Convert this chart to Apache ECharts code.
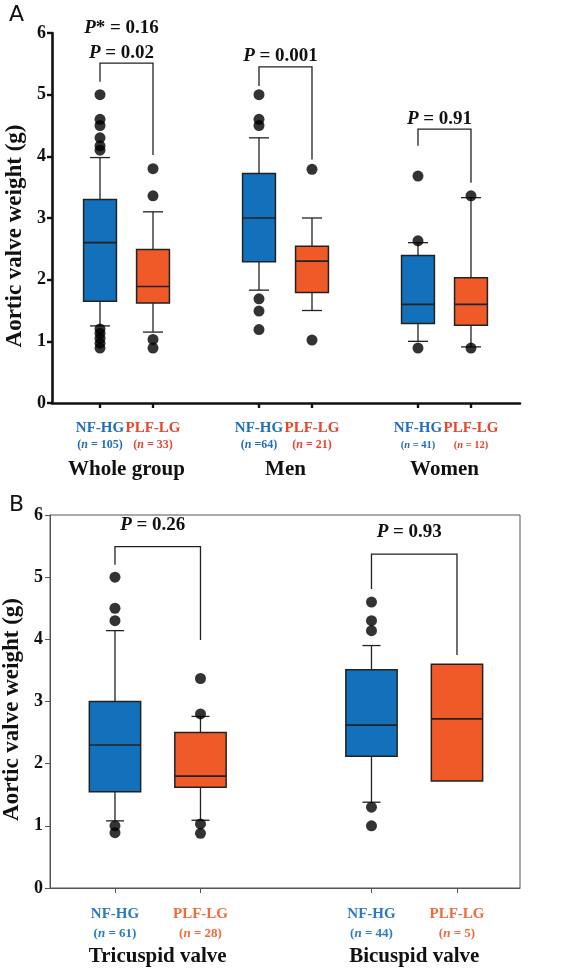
<!DOCTYPE html>
<html><head><meta charset="utf-8">
<script src="https://cdn.jsdelivr.net/npm/echarts@6/dist/echarts.min.js"></script>
<style>html,body{margin:0;padding:0;background:#fff}#c{width:576px;height:971px}</style>
</head><body><div id="c"></div>
<script>
// ---------------- Panel A data ----------------
const groupsA = ['Whole group', 'Men', 'Women'];
const nfhgNA = ['(n = 105)', '(n =64)', '(n = 41)'];
const plflgNA = ['(n = 33)', '(n = 21)', '(n = 12)'];
// [lower whisker, Q1, median, Q3, upper whisker]
const nfhgBoxA = [[1.25, 1.65, 2.60, 3.30, 3.98], [1.83, 2.29, 3.00, 3.72, 4.30], [1.00, 1.29, 1.60, 2.39, 2.60]];
const plflgBoxA = [[1.15, 1.62, 1.89, 2.49, 3.10], [1.50, 1.79, 2.30, 2.54, 3.00], [0.91, 1.26, 1.60, 2.03, 3.33]];
const nfhgOutA = [[5.0, 4.6, 4.5, 4.3, 4.17, 4.1, 1.2, 1.13, 1.05, 0.97, 0.89], [5.0, 4.6, 4.5, 1.69, 1.49, 1.19], [3.68, 2.63, 0.89]];
const plflgOutA = [[3.8, 3.36, 1.03, 0.89], [3.79, 1.02], [3.36, 0.89]];
const pTextA = [['P* = 0.16', 'P = 0.02'], ['P = 0.001'], ['P = 0.91']];
const bracketTopA = [5.51, 5.45, 4.44];
const bracketLeftA = [5.21, 5.14, 4.17];
const bracketRightA = [4.02, 3.95, 3.57];

// ---------------- Panel B data ----------------
const groupsB = ['Tricuspid valve', 'Bicuspid valve'];
const nfhgNB = ['(n = 61)', '(n = 44)'];
const plflgNB = ['(n = 28)', '(n = 5)'];
const nfhgBoxB = [[1.08, 1.55, 2.30, 3.00, 4.14], [1.38, 2.12, 2.62, 3.51, 3.90]];
const plflgBoxB = [[1.09, 1.62, 1.80, 2.50, 2.76], [1.72, 1.72, 2.72, 3.60, 3.60]];
const nfhgOutB = [[5.0, 4.5, 4.3, 1.0, 0.89], [4.6, 4.3, 4.14, 1.3, 1.0]];
const plflgOutB = [[3.37, 2.8, 1.03, 0.88], []];
const pTextB = [['P = 0.26'], ['P = 0.93']];
const bracketTopB = [5.49, 5.37];
const bracketLeftB = [5.20, 4.81];
const bracketRightB = [3.99, 3.75];

const yTicks = [0, 1, 2, 3, 4, 5, 6];

// ---------------- styling ----------------
const SERIF = "'Liberation Serif','Times New Roman',serif";
const BLUE = '#1271BA', ORANGE = '#F05A28';
const posBlue = i => 3 * i + 1;
const posOrange = i => 3 * i + 2;

function boxData(boxes, pos) { return boxes.map((b, i) => [pos(i)].concat(b)); }
function outData(outs, pos) { const r = []; outs.forEach((arr, i) => arr.forEach(v => r.push([pos(i), v]))); return r; }
function bracketData(top, left, right) { return top.map((t, i) => [posBlue(i), posOrange(i), t, left[i], right[i]]); }

function boxRender(fill, boxW, capPx) {
  return function (params, api) {
    const x = api.value(0);
    const lo = api.coord([x, api.value(1)]), q1 = api.coord([x, api.value(2)]),
      md = api.coord([x, api.value(3)]), q3 = api.coord([x, api.value(4)]), hi = api.coord([x, api.value(5)]);
    const w = api.size([boxW, 0])[0];
    const cx = q1[0], hw = w / 2, hc = capPx / 2;
    const ls = { stroke: '#222', lineWidth: 1.3 };
    const ch = [];
    if (hi[1] < q3[1] - 0.5) {
      ch.push({ type: 'line', shape: { x1: cx, y1: q3[1], x2: cx, y2: hi[1] }, style: ls });
      ch.push({ type: 'line', shape: { x1: cx - hc, y1: hi[1], x2: cx + hc, y2: hi[1] }, style: ls });
    }
    if (lo[1] > q1[1] + 0.5) {
      ch.push({ type: 'line', shape: { x1: cx, y1: q1[1], x2: cx, y2: lo[1] }, style: ls });
      ch.push({ type: 'line', shape: { x1: cx - hc, y1: lo[1], x2: cx + hc, y2: lo[1] }, style: ls });
    }
    ch.push({ type: 'rect', shape: { x: cx - hw, y: q3[1], width: w, height: q1[1] - q3[1] }, style: { fill: fill, stroke: '#222', lineWidth: 1.5 } });
    ch.push({ type: 'line', shape: { x1: cx - hw, y1: md[1], x2: cx + hw, y2: md[1] }, style: { stroke: '#222', lineWidth: 1.6 } });
    return { type: 'group', children: ch };
  };
}

function pRich(s) { return '{pi|P}{pt|' + s.slice(1) + '}'; }
function bracketRender(texts, gap) {
  return function (params, api) {
    const x1 = api.value(0), x2 = api.value(1), yt = api.value(2);
    const a = api.coord([x1, api.value(3)]), b = api.coord([x1, yt]), c = api.coord([x2, yt]), d = api.coord([x2, api.value(4)]);
    return {
      type: 'group', children: [
        { type: 'polyline', shape: { points: [a, b, c, d] }, style: { stroke: '#222', lineWidth: 1.3, fill: null } },
        {
          type: 'text', x: (b[0] + c[0]) / 2 - 5, y: b[1] - gap,
          style: {
            text: texts[params.dataIndex].map(pRich).join('\n'), align: 'center', verticalAlign: 'bottom', fill: '#111',
            rich: {
              pi: { fontFamily: SERIF, fontSize: 19, fontWeight: 'bold', fontStyle: 'italic', fill: '#111', lineHeight: 25 },
              pt: { fontFamily: SERIF, fontSize: 19, fontWeight: 'bold', fill: '#111', lineHeight: 25 }
            }
          }
        }
      ]
    };
  };
}

function labelRich(sz1, sz2, lh1, lh2, blue, orange) {
  const r = {};
  [['b', blue], ['o', orange]].forEach(([k, col]) => {
    r[k] = { color: col, fontFamily: SERIF, fontWeight: 'bold', fontSize: sz1, lineHeight: lh1 };
    r[k + 'n'] = { color: col, fontFamily: SERIF, fontWeight: 'bold', fontSize: sz2, lineHeight: lh2 };
    r[k + 'i'] = { color: col, fontFamily: SERIF, fontWeight: 'bold', fontStyle: 'italic', fontSize: sz2, lineHeight: lh2 };
    r[k + 'ns'] = { color: col, fontFamily: SERIF, fontWeight: 'bold', fontSize: sz2 - 1.5, lineHeight: lh2 };
    r[k + 'is'] = { color: col, fontFamily: SERIF, fontWeight: 'bold', fontStyle: 'italic', fontSize: sz2 - 1.5, lineHeight: lh2 };
  });
  return r;
}
function nRich(k, s, small) {
  const sfx = small ? 's' : '';
  return '{' + k + 'n' + sfx + '|(}{' + k + 'i' + sfx + '|n}{' + k + 'n' + sfx + '|' + s.slice(2) + '}';
}
function tickFormatter(nBlue, nOrange, smallIdx) {
  return function (v) {
    const i = Math.floor((v - 1) / 3);
    const isO = Math.round(v - 1) % 3 === 1;
    const small = smallIdx.indexOf(i) >= 0;
    if (isO) return '{o|PLF-LG}\n' + nRich('o', nOrange[i], small);
    return '{b|NF-HG}\n' + nRich('b', nBlue[i], small);
  };
}

const ticksA = []; groupsA.forEach((g, i) => { ticksA.push(posBlue(i), posOrange(i)); });
const midsA = groupsA.map((g, i) => posBlue(i) + 0.5);
const ticksB = []; groupsB.forEach((g, i) => { ticksB.push(posBlue(i), posOrange(i)); });
const midsB = groupsB.map((g, i) => posBlue(i) + 0.5);

const nameStyle = pad => ({ fontFamily: SERIF, fontWeight: 'bold', fontSize: 23, color: '#111', padding: [0, pad, 0, 0] });

const chart = echarts.init(document.getElementById('c'), null, { renderer: 'canvas' });
const option = {
  backgroundColor: '#fff',
  animation: false,
  graphic: [
    { type: 'text', left: 9, top: 4, style: { text: 'A', font: "22px 'DejaVu Sans', sans-serif", fill: '#111' } },
    { type: 'text', left: 9, top: 494, style: { text: 'B', font: "22px 'DejaVu Sans', sans-serif", fill: '#111' } }
  ],
  grid: [
    { left: 52, right: 56, top: 33, bottom: 568, containLabel: false, outerBoundsMode: 'none' },
    { left: 50, right: 56, top: 515, bottom: 83, containLabel: false, outerBoundsMode: 'none', show: true, borderColor: '#555', borderWidth: 1 }
  ],
  xAxis: [
    {
      gridIndex: 0, position: 'bottom', type: 'value', min: 0.094, max: 8.925, splitLine: { show: false },
      axisLine: { show: true, onZero: false, lineStyle: { color: '#111', width: 2.6 } },
      axisTick: { show: true, customValues: ticksA, length: 5, lineStyle: { color: '#111', width: 2.4 } },
      axisLabel: { customValues: ticksA, margin: 17, formatter: tickFormatter(nfhgNA, plflgNA, [2]), rich: labelRich(15, 12, 17, 16, '#1F6EBF', '#E8452C') }
    },
    {
      gridIndex: 0, position: 'bottom', type: 'value', min: 0.094, max: 8.925, splitLine: { show: false },
      axisLine: { show: false, onZero: false }, axisTick: { show: false },
      axisLabel: { customValues: midsA, margin: 56, formatter: v => groupsA[Math.floor((v - 1) / 3)], fontFamily: SERIF, fontWeight: 'bold', fontSize: 21, color: '#111' }
    },
    {
      gridIndex: 1, position: 'bottom', type: 'value', min: 0.24, max: 5.737, splitLine: { show: false },
      axisLine: { show: true, onZero: false, lineStyle: { color: '#555', width: 1 } },
      axisTick: { show: true, customValues: ticksB, length: 5, lineStyle: { color: '#555', width: 1 } },
      axisLabel: { customValues: ticksB, margin: 17, formatter: tickFormatter(nfhgNB, plflgNB, []), rich: labelRich(15, 13, 18, 22, '#2A7AC6', '#F26A3C') }
    },
    {
      gridIndex: 1, position: 'bottom', type: 'value', min: 0.24, max: 5.737, splitLine: { show: false },
      axisLine: { show: false, onZero: false }, axisTick: { show: false },
      axisLabel: { customValues: midsB, margin: 58, formatter: v => groupsB[Math.floor((v - 1) / 3)], fontFamily: SERIF, fontWeight: 'bold', fontSize: 21, color: '#111' }
    }
  ],
  yAxis: [
    {
      gridIndex: 0, type: 'value', min: yTicks[0], max: yTicks[yTicks.length - 1], interval: 1,
      splitLine: { show: false },
      axisLine: { show: true, onZero: false, lineStyle: { color: '#111', width: 2.6 } },
      axisTick: { show: true, length: 5, lineStyle: { color: '#111', width: 2.4 } },
      axisLabel: { margin: 6, fontFamily: SERIF, fontWeight: 'bold', fontSize: 18, color: '#111' },
      name: 'Aortic valve weight (g)', nameLocation: 'middle', nameGap: 24,
      nameTextStyle: nameStyle(36)
    },
    {
      gridIndex: 1, type: 'value', min: yTicks[0], max: yTicks[yTicks.length - 1], interval: 1,
      splitLine: { show: false },
      axisLine: { show: true, onZero: false, lineStyle: { color: '#555', width: 1 } },
      axisTick: { show: true, length: 5, lineStyle: { color: '#555', width: 1 } },
      axisLabel: { margin: 7, fontFamily: SERIF, fontWeight: 'bold', fontSize: 18, color: '#111' },
      name: 'Aortic valve weight (g)', nameLocation: 'middle', nameGap: 22,
      nameTextStyle: nameStyle(16)
    }
  ],
  series: [
    { type: 'custom', name: 'NF-HG', xAxisIndex: 0, yAxisIndex: 0, clip: false, z: 2, renderItem: boxRender(BLUE, 0.62, 20), data: boxData(nfhgBoxA, posBlue) },
    { type: 'custom', name: 'PLF-LG', xAxisIndex: 0, yAxisIndex: 0, clip: false, z: 2, renderItem: boxRender(ORANGE, 0.62, 20), data: boxData(plflgBoxA, posOrange) },
    { type: 'scatter', xAxisIndex: 0, yAxisIndex: 0, z: 5, symbolSize: 11, itemStyle: { color: '#000' }, data: outData(nfhgOutA, posBlue).concat(outData(plflgOutA, posOrange)) },
    { type: 'custom', xAxisIndex: 0, yAxisIndex: 0, clip: false, z: 3, renderItem: bracketRender(pTextA, -2), data: bracketData(bracketTopA, bracketLeftA, bracketRightA) },

    { type: 'custom', name: 'NF-HG', xAxisIndex: 2, yAxisIndex: 1, clip: false, z: 2, renderItem: boxRender(BLUE, 0.6, 18), data: boxData(nfhgBoxB, posBlue) },
    { type: 'custom', name: 'PLF-LG', xAxisIndex: 2, yAxisIndex: 1, clip: false, z: 2, renderItem: boxRender(ORANGE, 0.6, 18), data: boxData(plflgBoxB, posOrange) },
    { type: 'scatter', xAxisIndex: 2, yAxisIndex: 1, z: 5, symbolSize: 11, itemStyle: { color: '#000' }, data: outData(nfhgOutB, posBlue).concat(outData(plflgOutB, posOrange)) },
    { type: 'custom', xAxisIndex: 2, yAxisIndex: 1, clip: false, z: 3, renderItem: bracketRender(pTextB, 9.5), data: bracketData(bracketTopB, bracketLeftB, bracketRightB) }
  ]
};
chart.setOption(option);
</script>
</body></html>
